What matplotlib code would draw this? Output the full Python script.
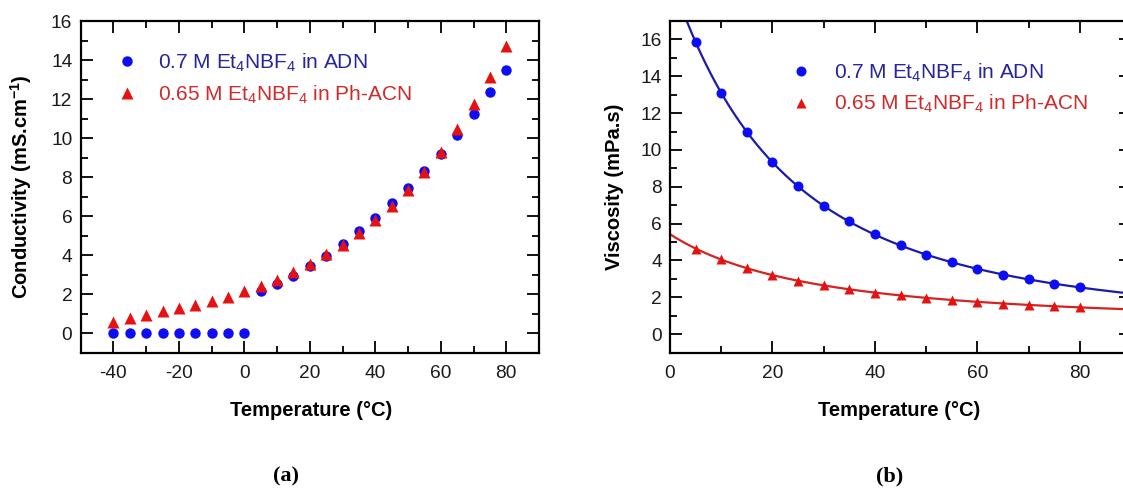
import numpy as np
import matplotlib
matplotlib.use("Agg")
import matplotlib.pyplot as plt
from matplotlib.ticker import MultipleLocator

plt.rcParams['font.family'] = ['Liberation Sans', 'DejaVu Sans']
plt.rcParams['mathtext.fontset'] = 'custom'
plt.rcParams['mathtext.rm'] = 'Liberation Sans'
plt.rcParams['mathtext.bf'] = 'Liberation Sans:bold'
plt.rcParams['mathtext.default'] = 'regular'
plt.rcParams['axes.unicode_minus'] = False

# ---------------- data (a) conductivity ----------------
temp_cond_adn = [-40, -35, -30, -25, -20, -15, -10, -5, 0, 5, 10, 15, 20, 25, 30, 35,
                 40, 45, 50, 55, 60, 65, 70, 75, 80]
cond_adn = [0, 0, 0, 0, 0, 0, 0, 0, 0, 2.15, 2.50, 2.94, 3.43, 3.98, 4.58, 5.23,
            5.92, 6.67, 7.46, 8.29, 9.16, 10.17, 11.22, 12.36, 13.51]
temp_cond_ph = [-40, -35, -30, -25, -20, -15, -10, -5, 0, 5, 10, 15, 20, 25, 30, 35,
                40, 45, 50, 55, 60, 65, 70, 75, 80]
cond_ph = [0.56, 0.79, 0.94, 1.16, 1.30, 1.46, 1.66, 1.88, 2.15, 2.43, 2.74, 3.13,
           3.57, 4.07, 4.50, 5.15, 5.81, 6.53, 7.35, 8.26, 9.28, 10.45, 11.73, 13.13, 14.70]

# ---------------- data (b) viscosity ----------------
temp_visc = [5, 10, 15, 20, 25, 30, 35, 40, 45, 50, 55, 60, 65, 70, 75, 80]
visc_adn = [15.85, 13.08, 10.98, 9.33, 8.03, 6.97, 6.12, 5.41, 4.81, 4.31, 3.89,
            3.54, 3.23, 2.97, 2.73, 2.55]
visc_ph = [4.62, 4.07, 3.58, 3.19, 2.90, 2.66, 2.44, 2.24, 2.11, 1.98, 1.85, 1.72,
           1.64, 1.58, 1.52, 1.47]

label_adn = r'0.7 M Et$_4$NBF$_4$ in ADN'
label_ph = r'0.65 M Et$_4$NBF$_4$ in Ph-ACN'

BLUE_M = '#0c0cf5'
RED_M = '#e61212'
BLUE_L = '#1b1ba8'
RED_L = '#d52222'
BLUE_T = '#25259e'
RED_T = '#d02a2a'


def vtf_fit(T, eta):
    T = np.asarray(T, float)
    y = np.log(np.asarray(eta, float))
    TK = T + 273.15
    best = None
    for T0 in np.linspace(0, 250, 1001):
        X = np.column_stack([np.ones_like(TK), 1.0 / (TK - T0)])
        coef = np.linalg.lstsq(X, y, rcond=None)[0]
        err = np.sum((X @ coef - y) ** 2)
        if best is None or err < best[0]:
            best = (err, T0, coef)
    _, T0, coef = best
    return lambda t: np.exp(coef[0] + coef[1] / (np.asarray(t) + 273.15 - T0))


W, H = 1123, 488
fig = plt.figure(figsize=(W / 100, H / 100), dpi=100)

ax1 = fig.add_axes([80.7 / W, 1 - 352.7 / H, 458.3 / W, 331.7 / H])
ax2 = fig.add_axes([670 / W, 1 - 352.5 / H, 461 / W, 331.5 / H])

LABEL_FS = 14.5
LEG_FS = 15

# ---- panel (a)
ax1.plot(temp_cond_adn, cond_adn, 'o', color=BLUE_M, ms=7.5, mec='none', label=label_adn, zorder=3)
ax1.plot(temp_cond_ph, cond_ph, '^', color=RED_M, ms=8, mec='none', label=label_ph, zorder=4)
ax1.set_xlim(-50, 90)
ax1.set_ylim(-1, 16)
ax1.xaxis.set_major_locator(MultipleLocator(20))
ax1.xaxis.set_minor_locator(MultipleLocator(10))
ax1.yaxis.set_major_locator(MultipleLocator(2))
ax1.yaxis.set_minor_locator(MultipleLocator(1))
ax1.set_ylabel(r'Conductivity (mS.cm$^{\mathbf{-1}}$)', fontsize=LABEL_FS, fontweight='bold')
ax1.set_xlabel('Temperature (°C)', fontsize=LABEL_FS, fontweight='bold')
ax1.yaxis.set_label_coords((34 - 80.7) / 458.3, 0.5)
ax1.xaxis.label.set_va('center')
ax1.xaxis.set_label_coords((310.7 - 80.7) / 458.3, (352.7 - 410) / 331.7)

# ---- panel (b)
tt = np.linspace(0, 90, 400)
f_adn = vtf_fit(temp_visc, visc_adn)
f_ph = vtf_fit(temp_visc, visc_ph)
ax2.plot(tt, f_adn(tt), '-', color=BLUE_L, lw=1.6, zorder=2)
ax2.plot(tt, f_ph(tt), '-', color=RED_L, lw=1.6, zorder=2)
ax2.plot(temp_visc, visc_adn, 'o', color=BLUE_M, ms=7.2, mec='none', label=label_adn, zorder=3)
ax2.plot(temp_visc, visc_ph, '^', color=RED_M, ms=7.2, mec='none', label=label_ph, zorder=3)
ax2.set_xlim(0, 90)
ax2.set_ylim(-1, 17)
ax2.xaxis.set_major_locator(MultipleLocator(20))
ax2.xaxis.set_minor_locator(MultipleLocator(10))
ax2.yaxis.set_major_locator(MultipleLocator(2))
ax2.yaxis.set_minor_locator(MultipleLocator(1))
ax2.set_ylabel('Viscosity (mPa.s)', fontsize=LABEL_FS, fontweight='bold')
ax2.set_xlabel('Temperature (°C)', fontsize=LABEL_FS, fontweight='bold')
ax2.yaxis.set_label_coords((624 - 670) / 461, 0.5)
ax2.xaxis.label.set_va('center')
ax2.xaxis.set_label_coords((899 - 670) / 461, (352.5 - 410) / 331.5)

for ax in (ax1, ax2):
    for s in ax.spines.values():
        s.set_linewidth(1.6)
    ax.tick_params(which='both', direction='in', top=True, right=True,
                   labelsize=13.8, colors='black', width=1.3)
    ax.tick_params(which='major', length=8.5)
    ax.tick_params(which='minor', length=5)
    ax.tick_params(axis='x', pad=9)
    ax.tick_params(axis='y', pad=6)
    for lab in ax.get_xticklabels() + ax.get_yticklabels():
        lab.set_color('#1a1a1a')

leg1 = ax1.legend(loc='upper left', bbox_to_anchor=((116.4 - 80.7) / 458.3, (352.7 - 51.5) / 331.7),
                  frameon=False, fontsize=LEG_FS, handlelength=1.0, handletextpad=0.99,
                  labelspacing=0.47, borderpad=0, borderaxespad=0)
leg2 = ax2.legend(loc='upper left', bbox_to_anchor=((790.6 - 670) / 461, (352.5 - 61.5) / 331.5),
                  frameon=False, fontsize=LEG_FS, handlelength=1.0, handletextpad=1.1,
                  labelspacing=0.44, borderpad=0, borderaxespad=0)
for leg in (leg1, leg2):
    t1, t2 = leg.get_texts()
    t1.set_color(BLUE_T)
    t2.set_color(RED_T)

fig.text(285.7 / W, 1 - 476.7 / H, '(a)', ha='center', va='center', fontsize=16,
         fontweight='bold', family=['Liberation Serif', 'DejaVu Serif'])
fig.text(890 / W, 1 - 476.7 / H, '(b)', ha='center', va='center', fontsize=16,
         fontweight='bold', family=['Liberation Serif', 'DejaVu Serif'])

fig.savefig('out.png', dpi=100)
